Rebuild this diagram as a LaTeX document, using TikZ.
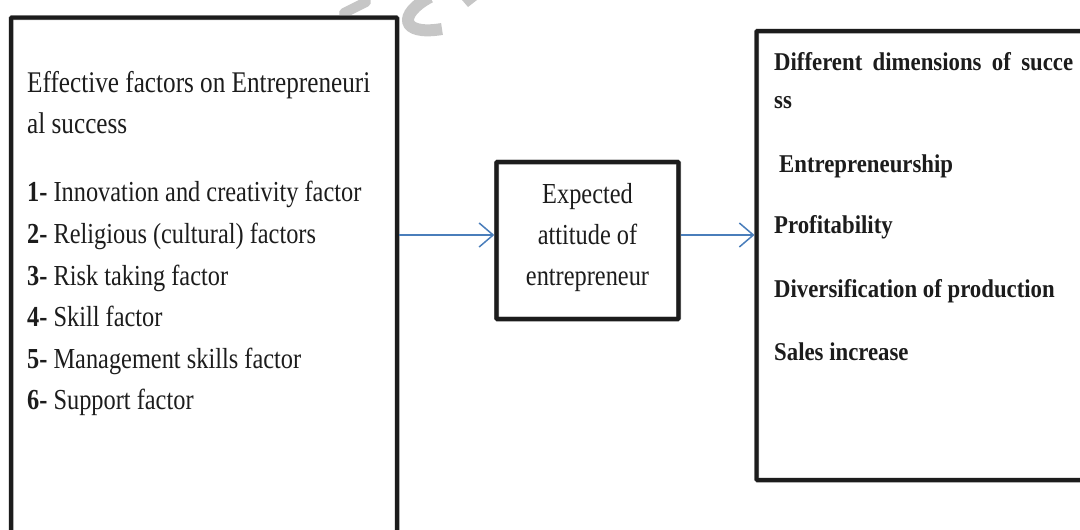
\documentclass[tikz,border=0pt]{standalone}
\usepackage{fontspec}
\setmainfont{Liberation Serif}
\newfontfamily\gara[FakeStretch=0.84]{Liberation Serif}
\newfontfamily\garb[FakeStretch=0.89]{Liberation Serif}
\usetikzlibrary{arrows.meta}
\definecolor{ink}{HTML}{1C1C1C}
\definecolor{arrowblue}{HTML}{4A7EBB}
\definecolor{wm}{HTML}{C6C6C6}
\begin{document}
\begin{tikzpicture}[x=1pt,y=-1pt,
  box/.style={draw=ink, line width=4pt, rounded corners=1pt, inner sep=0pt,
    preaction={draw=black!35, line width=5pt}},
  txt/.style={anchor=base west, inner sep=0pt, text=ink, font=\gara\fontsize{29}{35}\selectfont},
  ttl/.style={txt, font=\gara\fontsize{30}{36}\selectfont},
  btxt/.style={anchor=base west, inner sep=0pt, text=ink, font=\garb\bfseries\fontsize{25.6}{30}\selectfont},
  mtxt/.style={txt, anchor=base},
  arr/.style={draw=arrowblue, line width=1.5pt, -{Straight Barb[length=14pt, width=24pt]}}
]
\useasboundingbox (0,0) rectangle (1080,530);
% faint watermark strokes
\draw[wm, line width=10pt, line cap=round] (344,13) -- (366,2);
\draw[wm, line width=12pt] (430,-3) .. controls (398,14) and (400,36) .. (442,29);
\fill[wm] (462,0) -- (477,0) -- (468,7) -- cycle;
% boxes
\node[box, minimum width=386pt, minimum height=530pt] (left) at (204,282.5) {};
\node[box, line width=4.4pt, minimum width=182pt, minimum height=157pt] (mid) at (587.5,240.5) {};
\node[box, minimum width=340pt, minimum height=449pt] (right) at (926.5,255.5) {};
% connectors
\coordinate (ay) at (0,235);
\draw[arr] (left.east |- ay) -- (mid.west |- ay);
\draw[arr] (mid.east |- ay) -- (right.west |- ay);
% left box text
\node[ttl] (t1) at (27,92.7) {Effective factors on Entrepreneuri};
\node[ttl] (t2) at (27,133) {al success};
\node[txt] (f1) at (27,201.7) {\textbf{1-} Innovation and creativity factor};
\node[txt] (f2) at (27,243.3) {\textbf{2-} Religious (cultural) factors};
\node[txt] (f3) at (27,285) {\textbf{3-} Risk taking factor};
\node[txt] (f4) at (27,326.5) {\textbf{4-} Skill factor};
\node[txt] (f5) at (27,368) {\textbf{5-} Management skills factor};
\node[txt] (f6) at (27,409.5) {\textbf{6-} Support factor};
% middle box text
\node[mtxt] (m1) at (587.5,203) {Expected};
\node[mtxt] (m2) at (587.5,244) {attitude of};
\node[mtxt] (m3) at (587.5,285) {entrepreneur};
% right box text
\node[btxt] (r1) at (774,70.7) {\makebox[299pt][s]{Different dimensions of succe}};
\node[btxt] (r2) at (774,108) {ss};
\node[btxt] (r3) at (779,172) {Entrepreneurship};
\node[btxt] (r4) at (774,233) {Profitability};
\node[btxt] (r5) at (774,297) {Diversification of production};
\node[btxt] (r6) at (774,360) {Sales increase};
\end{tikzpicture}
\end{document}
